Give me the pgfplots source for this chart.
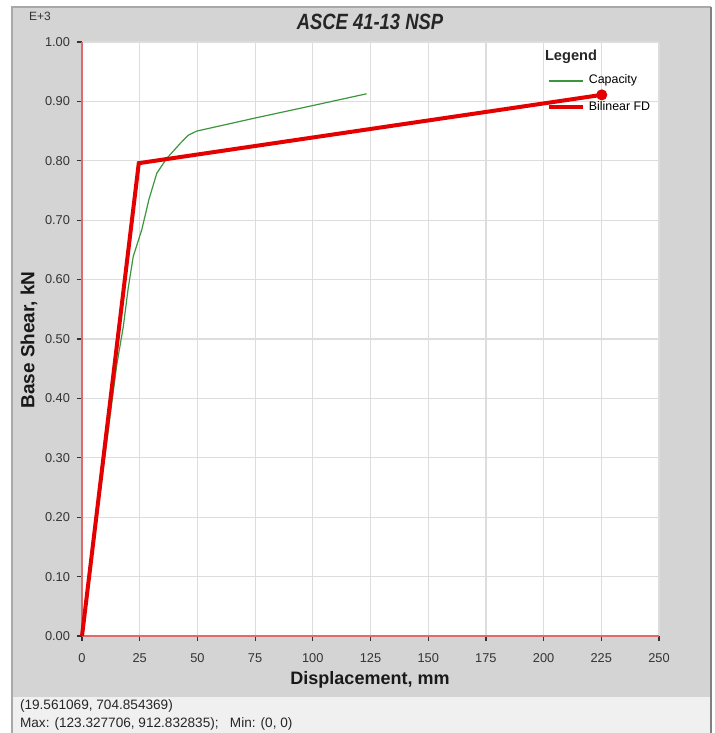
\documentclass[border=0pt]{standalone}
\usepackage{pgfplots}
\pgfplotsset{compat=1.18}
\usepackage{fontspec}
\setmainfont{Liberation Sans}
\definecolor{panel}{HTML}{D4D4D4}
\definecolor{strip}{HTML}{F0F0F0}
\definecolor{gridc}{HTML}{DDDDDD}
\definecolor{axred}{HTML}{E06A6A}
\definecolor{capgreen}{RGB}{60,150,60}
\definecolor{bired}{RGB}{228,0,0}
\definecolor{tickc}{HTML}{333333}
\definecolor{borderc}{HTML}{A8A8A8}

\begin{document}
\begin{tikzpicture}[x=0.5pt,y=0.5pt]
\useasboundingbox (0,0) rectangle (715,733);
\fill[white] (0,0) rectangle (715,733);
\fill[panel] (12,36) rectangle (711,726);
\fill[strip] (12,0) rectangle (711,36);
\draw[borderc, line width=0.8pt] (12,0) -- (12,726) -- (711,726);
\draw[gray, line width=0.8pt] (711,726) -- (711,0);

\begin{axis}[
  at={(41pt,48.5pt)}, anchor=south west,
  scale only axis, width=288.5pt, height=297pt,
  xmin=0, xmax=250, ymin=0, ymax=1,
  xtick={0,25,50,75,100,125,150,175,200,225,250},
  ytick={0,0.1,0.2,0.3,0.4,0.5,0.6,0.7,0.8,0.9,1.0},
  axis x line*=bottom, axis y line*=left,
  axis line style={axred, line width=0.7pt, -},
  axis background/.style={fill=white},
  grid=major, grid style={gridc, line width=0.6pt},
  tick align=outside, major tick length=2.5pt,
  tick style={tickc, line width=0.6pt},
  ticklabel style={font=\fontsize{6.4}{7}\selectfont, text=tickc},
  /pgf/number format/assume math mode=true,
  yticklabel style={/pgf/number format/.cd, fixed, fixed zerofill, precision=2},
  xticklabel style={text height=0.72em, text depth=0pt, /pgf/number format/.cd, fixed, precision=0},
  legend style={at={(0.805,0.952)}, anchor=north west, draw=none, fill=none,
    font=\fontsize{6.2}{7}\selectfont, row sep=3.2pt, inner sep=0pt,
    /tikz/every even column/.append style={column sep=3pt}},
  legend cell align=left,
  legend image code/.code={\draw[#1, mark=none] (0pt,0pt) -- (17pt,0pt);},
  clip=false,
]
\addplot[capgreen, line width=0.6pt] coordinates {
  (0,0) (8,0.245) (15,0.455) (17.9,0.521) (20,0.585) (22.2,0.639)
  (25.9,0.684) (29,0.735) (32.4,0.779) (36.7,0.804) (42.5,0.829)
  (46,0.843) (49.7,0.850) (75,0.872) (100,0.893) (123.3,0.9128)
};
\addlegendentry{Capacity}
\addplot[bired, line width=2pt, mark=*, mark indices={3}, mark size=2.5pt,
  mark options={fill=bired, draw=bired, line width=0.5pt}] coordinates {
  (0,0) (24.6,0.796) (225.2,0.911)
};
\addlegendentry{Bilinear FD}
\end{axis}

\node[font=\fontsize{9.2}{11}\selectfont\bfseries\itshape, text=black!85] at (370,711) {\scalebox{1}[1.2]{ASCE 41-13 NSP}};
\node[font=\fontsize{6}{7}\selectfont, text=tickc] at (40,717) {E+3};
\node[font=\fontsize{7.3}{9}\selectfont\bfseries, text=black!85] at (571,676) {Legend};
\node[font=\fontsize{9.5}{11}\selectfont\bfseries, text=black!90, rotate=90] at (29,393) {Base Shear, kN};
\node[font=\fontsize{9}{11}\selectfont\bfseries, text=black!90] at (370,53) {Displacement, mm};
\node[font=\fontsize{6.8}{8}\selectfont, text=black!85, anchor=west] at (13,27) {(19.561069, 704.854369)};
\node[font=\fontsize{6.8}{8}\selectfont, text=black!85, anchor=west] at (13,9) {Max: (123.327706, 912.832835);\ \ \ Min: (0, 0)};
\end{tikzpicture}
\end{document}
